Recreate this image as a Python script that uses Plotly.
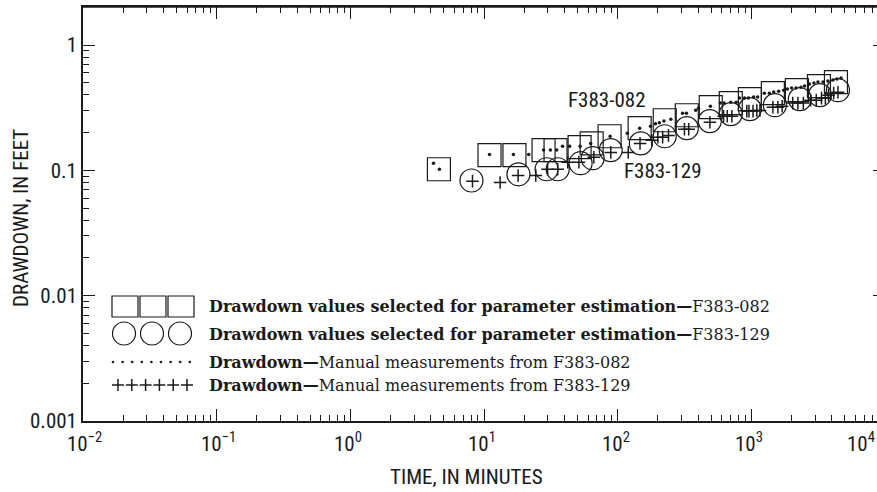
import plotly.graph_objects as go
import math

# ---------------- data ----------------
# Drawdown values selected for parameter estimation, F383-082 (squares)
sq_t = [4.6, 11.0, 16.9, 27.9, 34.3, 51.9, 63.9, 87, 146, 225, 329, 497, 702, 975, 1449, 2192, 3205, 4295]
sq_s = [0.102, 0.132, 0.132, 0.145, 0.145, 0.153, 0.164, 0.187, 0.217, 0.251, 0.275, 0.319, 0.344, 0.370, 0.413, 0.436, 0.470, 0.506]

# Drawdown values selected for parameter estimation, F383-129 (circles)
ci_t = [8.06, 18.1, 29.4, 35.6, 52.8, 65, 88.7, 149, 225, 329, 489, 702, 975, 1500, 2307, 3260, 4446]
ci_s = [0.083, 0.093, 0.102, 0.102, 0.114, 0.125, 0.145, 0.164, 0.187, 0.217, 0.247, 0.281, 0.308, 0.331, 0.370, 0.398, 0.436]

# Manual measurements from F383-082 (dots)
dot_t = [4.19, 4.64, 11.0, 16.6, 21.6, 27.9, 31.4, 35.0, 38.7, 43.7, 52.4, 62.8, 87.8, 118, 146, 176, 192,
         205, 222, 250, 306, 327, 383, 402, 494, 586, 626, 702, 770, 815, 889, 951, 1040, 1114, 1250, 1365,
         1470, 1600, 1745, 1860, 2000, 2160, 2350, 2500, 2720, 2940, 3150, 3440, 3740, 4080, 4370, 4690]
dot_s = [0.114, 0.102, 0.134, 0.134, 0.134, 0.145, 0.145, 0.145, 0.156, 0.156, 0.156, 0.164, 0.187, 0.198,
         0.217, 0.225, 0.235, 0.240, 0.247, 0.256, 0.286, 0.286, 0.302, 0.313, 0.325, 0.344, 0.344, 0.350,
         0.350, 0.377, 0.377, 0.377, 0.384, 0.384, 0.413, 0.413, 0.421, 0.428, 0.436, 0.445, 0.453, 0.453,
         0.461, 0.470, 0.488, 0.497, 0.506, 0.506, 0.515, 0.525, 0.535, 0.545]

# Manual measurements from F383-129 (plus signs)
pl_t = [8.2, 13.2, 18.0, 24.4, 29.9, 35.6, 42.3, 51.3, 66.3, 88.8, 120, 147, 180, 200, 217, 240, 316, 340,
        490, 620, 660, 715, 925, 960, 1030, 1100, 1160, 1450, 1580, 1700, 2040, 2230, 2450, 2780, 3060,
        3350, 3580, 3780, 4130, 4450]
pl_s = [0.082, 0.080, 0.091, 0.091, 0.102, 0.102, 0.116, 0.116, 0.127, 0.139, 0.139, 0.164, 0.174, 0.184,
        0.184, 0.190, 0.213, 0.213, 0.242, 0.270, 0.270, 0.270, 0.297, 0.297, 0.297, 0.300, 0.300, 0.319,
        0.319, 0.325, 0.344, 0.344, 0.344, 0.363, 0.363, 0.377, 0.377, 0.398, 0.413, 0.420]

x_exponents = [-2, -1, 0, 1, 2, 3, 4]
y_tickvals = [0.001, 0.01, 0.1, 1]
y_ticktext = ["0.001", "0.01", "0.1", "1"]

legend_rows = [
    "<b>Drawdown values selected for parameter estimation—</b>F383-082",
    "<b>Drawdown values selected for parameter estimation—</b>F383-129",
    "<b>Drawdown—</b>Manual measurements from F383-082",
    "<b>Drawdown—</b>Manual measurements from F383-129",
]

# ---------------- layout geometry ----------------
# plot area spans page x 83..885 (right edge just beyond the 877 px window), y 7..421
W, H = 885, 492
L, R, T, B = 83, 0, 7, 71
PW, PH = W - L - R, H - T - B
SANS = "Liberation Sans Narrow, Arial Narrow, Roboto Condensed, sans-serif"
SERIF = "DejaVu Serif, Liberation Serif, serif"
INK = "#1a1a1a"
FS = 21


def px(x):  # page pixel -> paper
    return (x - L) / PW


def py(y):
    return (H - B - y) / PH


fig = go.Figure()
fig.add_trace(go.Scatter(x=sq_t, y=sq_s, mode="markers", cliponaxis=False,
                         marker=dict(symbol="square-open", size=23, color=INK, line=dict(width=1.2, color=INK))))
fig.add_trace(go.Scatter(x=ci_t, y=ci_s, mode="markers", cliponaxis=False,
                         marker=dict(symbol="circle-open", size=23, color=INK, line=dict(width=1.2, color=INK))))
fig.add_trace(go.Scatter(x=dot_t, y=dot_s, mode="markers",
                         marker=dict(symbol="circle", size=3.5, color=INK, line=dict(width=0))))
fig.add_trace(go.Scatter(x=pl_t, y=pl_s, mode="markers",
                         marker=dict(symbol="cross-thin-open", size=9, color=INK, line=dict(width=1.5, color=INK))))

minor_x = [m * 10 ** k for k in range(-2, 4) for m in range(2, 10)]
minor_y = [m * 10 ** k for k in range(-3, 1) for m in range(2, 10)]

fig.update_xaxes(type="log", range=[-2, 4], showgrid=False, zeroline=False,
                 showline=True, linecolor=INK, linewidth=1.6, mirror="ticks",
                 ticks="inside", ticklen=12, tickwidth=1, tickcolor=INK,
                 tickvals=[10 ** k for k in x_exponents], showticklabels=False,
                 minor=dict(tickvals=minor_x, ticks="inside", ticklen=6, tickwidth=1, tickcolor=INK, showgrid=False))
fig.update_yaxes(type="log", range=[-3, 3 * (45 - 7) / (421 - 45)], showgrid=False, zeroline=False,
                 showline=True, linecolor=INK, linewidth=1.6, mirror="ticks",
                 ticks="inside", ticklen=12, tickwidth=1, tickcolor=INK,
                 tickvals=y_tickvals, ticktext=y_ticktext,
                 tickfont=dict(family=SANS, size=FS, color=INK),
                 minor=dict(tickvals=minor_y, ticks="inside", ticklen=6, tickwidth=1, tickcolor=INK, showgrid=False))

ann = []
# x tick labels: "10" ends at the tick
for k in x_exponents:
    sup = str(k).replace("-", "−")
    if k < 4:
        ann.append(dict(x=k, xref="x", y=0, yref="paper", yanchor="top", xanchor="left", xshift=-18, yshift=-5,
                        text=f"10<sup>{sup}</sup>", showarrow=False, font=dict(family=SANS, size=FS, color=INK)))
    else:
        ann.append(dict(x=k, xref="x", y=0, yref="paper", yanchor="top", xanchor="right", xshift=-8, yshift=-5,
                        text=f"10<sup>{sup}</sup>", showarrow=False, font=dict(family=SANS, size=FS, color=INK)))

# axis titles
ann.append(dict(x=px(466), y=py(477), xref="paper", yref="paper", xanchor="center", yanchor="middle",
                text="TIME, IN MINUTES", showarrow=False, font=dict(family=SANS, size=FS, color=INK)))
ann.append(dict(x=px(21), y=py(218), xref="paper", yref="paper", xanchor="center", yanchor="middle",
                text="DRAWDOWN, IN FEET", showarrow=False, textangle=-90,
                font=dict(family=SANS, size=FS, color=INK)))

# well labels
ann.append(dict(x=math.log10(82.8), y=math.log10(0.363), xref="x", yref="y", xanchor="center", yanchor="middle",
                text="F383-082", showarrow=False, font=dict(family=SANS, size=FS, color=INK)))
ann.append(dict(x=math.log10(217), y=math.log10(0.098), xref="x", yref="y", xanchor="center", yanchor="middle",
                text="F383-129", showarrow=False, font=dict(family=SANS, size=FS, color=INK)))

# legend text
row_y = [306, 334, 362, 385]
for txt, yy in zip(legend_rows, row_y):
    ann.append(dict(x=px(207), y=py(yy), xref="paper", yref="paper", xanchor="left", yanchor="middle",
                    text=txt, showarrow=False, font=dict(family=SERIF, size=16, color=INK)))

shapes = []
# top frame line
shapes.append(dict(type="line", xref="paper", yref="paper", x0=0, x1=1, y0=1, y1=1,
                   line=dict(color=INK, width=1.6)))
# legend squares
for x0 in [112, 140, 168]:
    shapes.append(dict(type="rect", xref="paper", yref="paper", x0=px(x0), x1=px(x0 + 26),
                       y0=py(317), y1=py(296), line=dict(color=INK, width=1.2)))
# legend circles
for cx in [124, 152, 180]:
    shapes.append(dict(type="circle", xref="paper", yref="paper", x0=px(cx - 11.5), x1=px(cx + 11.5),
                       y0=py(345), y1=py(322), line=dict(color=INK, width=1.2)))
# legend dots
for i in range(9):
    cx = 113 + i * 9.6
    shapes.append(dict(type="circle", xref="paper", yref="paper", x0=px(cx - 1.3), x1=px(cx + 1.3),
                       y0=py(362 + 1.3), y1=py(362 - 1.3), fillcolor=INK, line=dict(width=0)))
# legend plus signs
for i in range(6):
    cx = 118 + i * 13.8
    shapes.append(dict(type="line", xref="paper", yref="paper", x0=px(cx - 6), x1=px(cx + 6),
                       y0=py(385), y1=py(385), line=dict(color=INK, width=1.5)))
    shapes.append(dict(type="line", xref="paper", yref="paper", x0=px(cx), x1=px(cx),
                       y0=py(391), y1=py(379), line=dict(color=INK, width=1.5)))

fig.update_layout(width=W, height=H, margin=dict(l=L, r=R, t=T, b=B, autoexpand=False), showlegend=False,
                  plot_bgcolor="white", paper_bgcolor="white", annotations=ann, shapes=shapes)

fig.write_html("out.html", config={"displayModeBar": False},
               post_script="document.body.style.margin='0';document.body.style.overflow='hidden';")
